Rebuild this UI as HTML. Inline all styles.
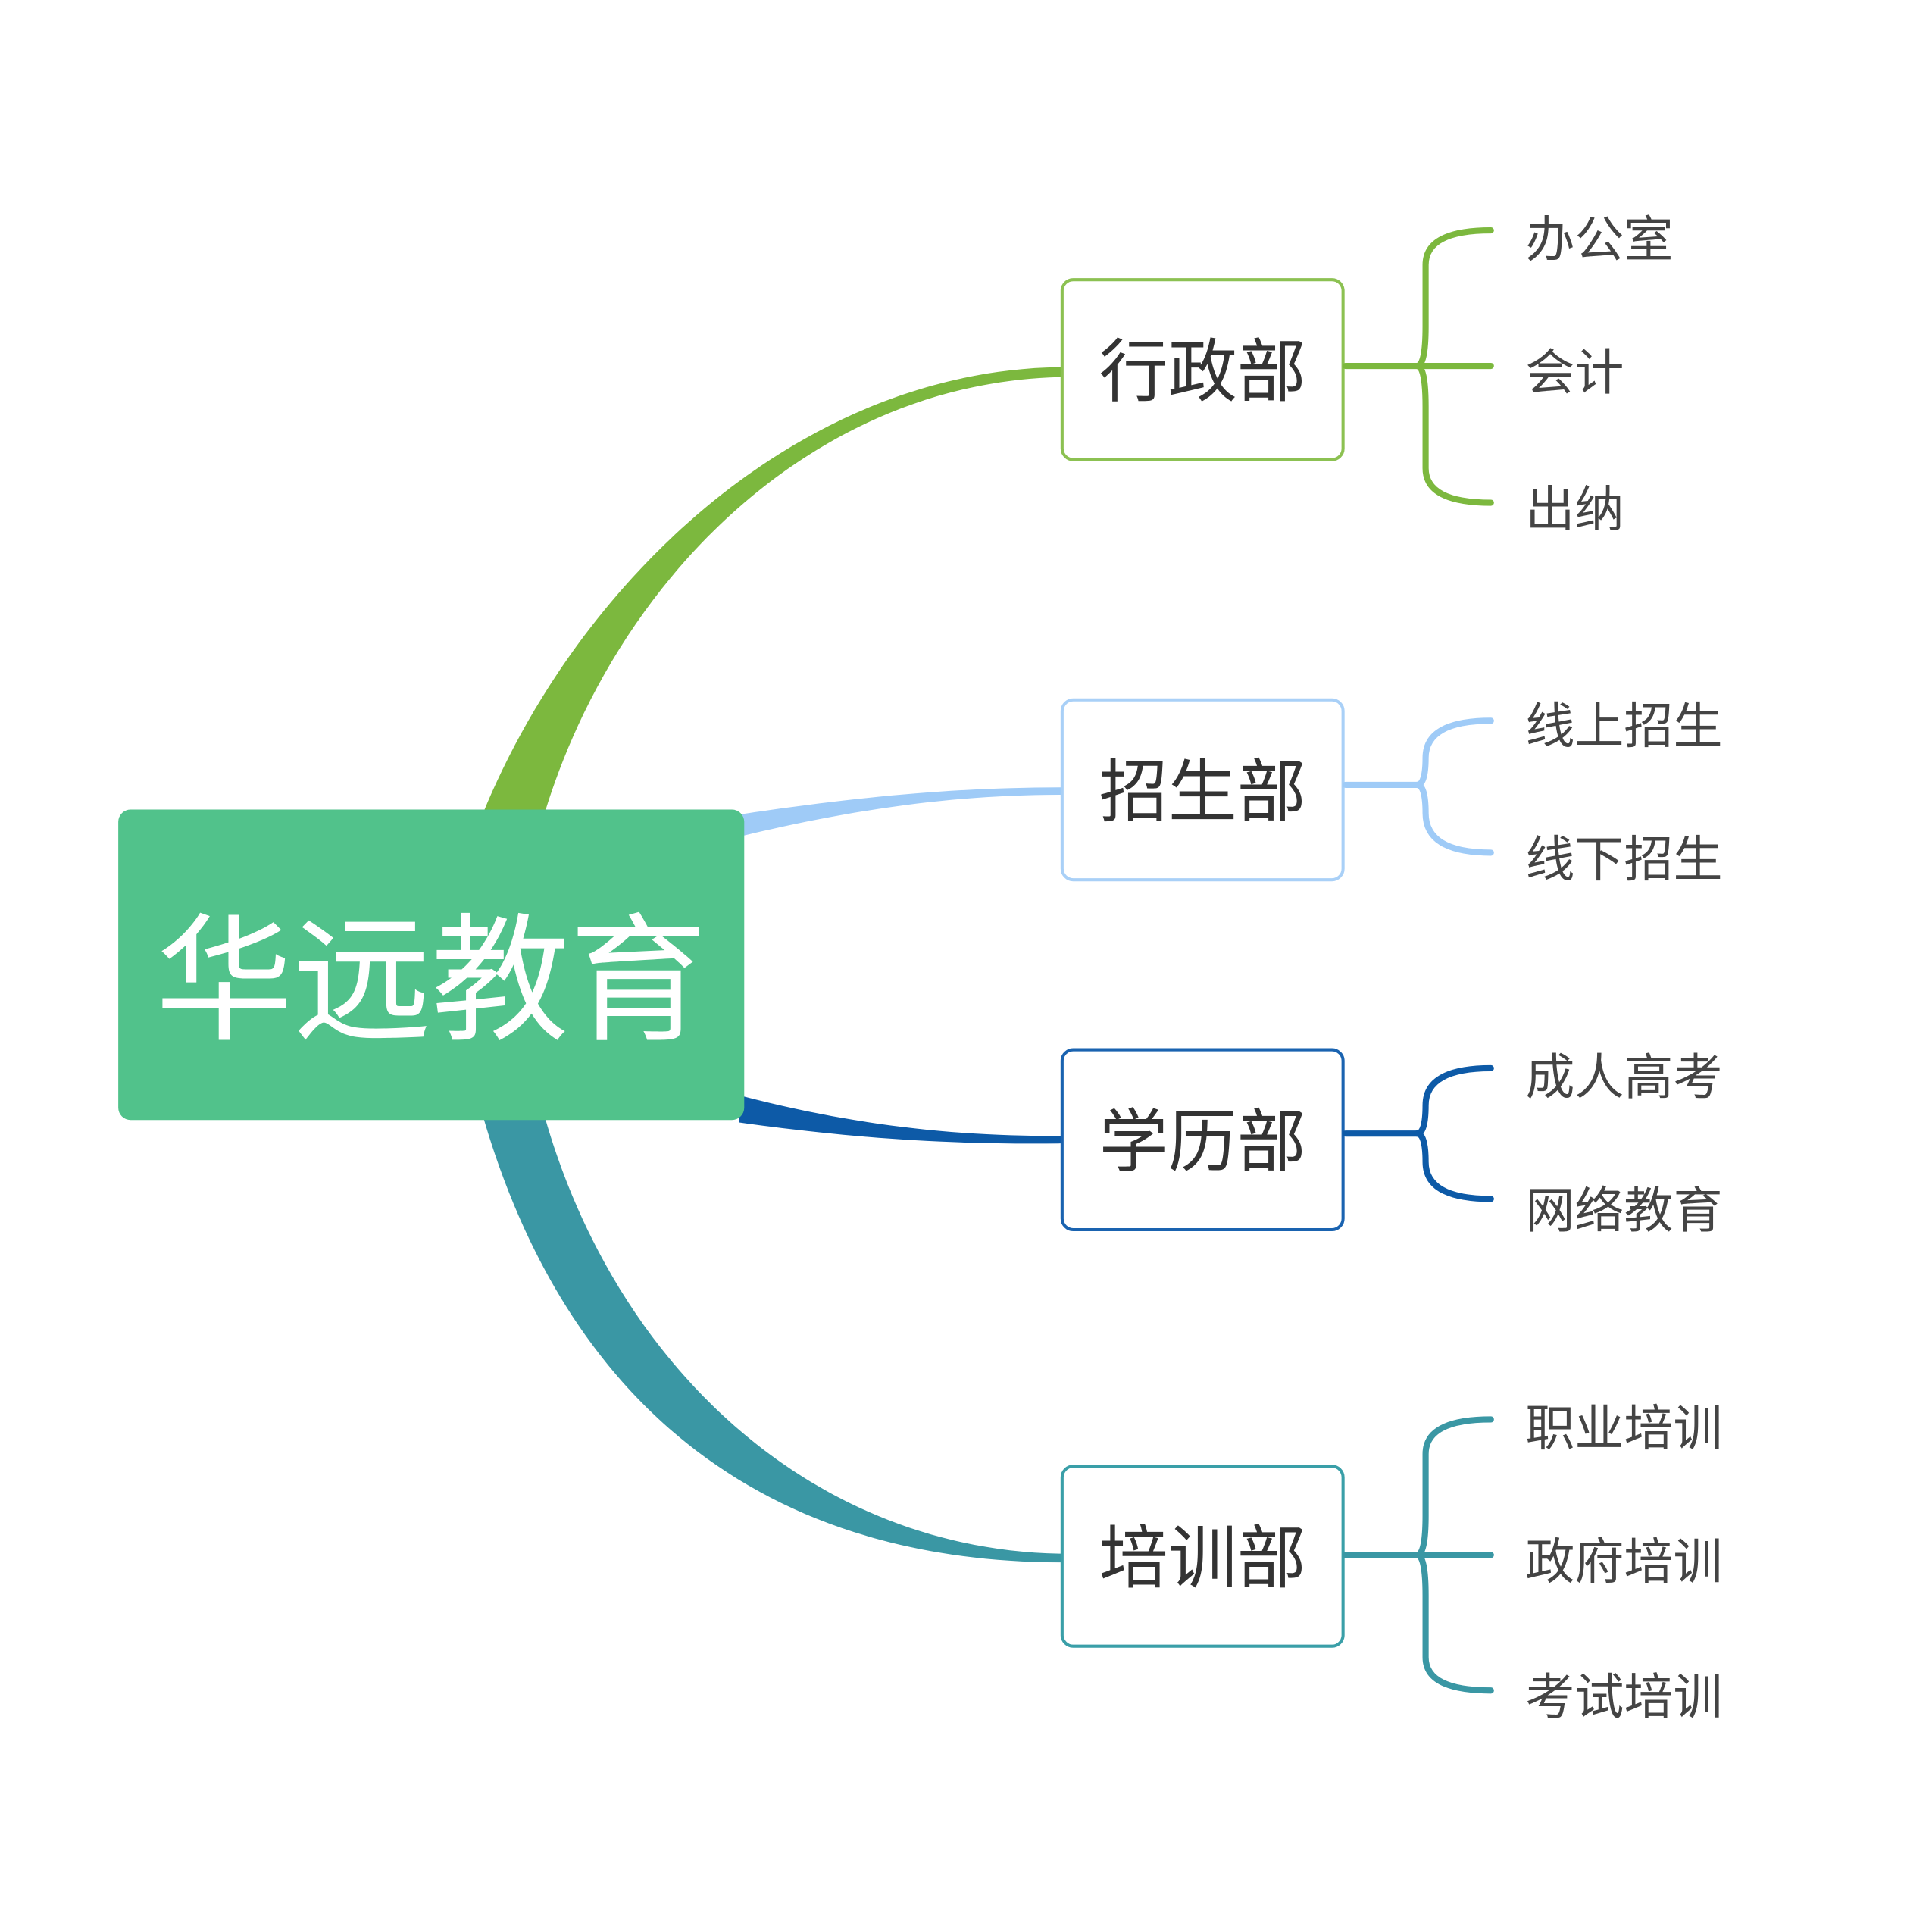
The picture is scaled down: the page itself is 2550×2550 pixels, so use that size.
<!DOCTYPE html>
<html><head><meta charset="utf-8"><style>
html,body{margin:0;padding:0;background:#fff;}
svg{display:block}
text{font-family:"Liberation Sans","Noto Sans CJK SC",sans-serif;}
</style></head><body>
<svg width="2550" height="2550" viewBox="0 0 1568 1568" xmlns="http://www.w3.org/2000/svg">
<rect width="1568" height="1568" fill="#fff"/>
<!-- main branches -->
<path d="M392,660 C470,470 650,300 862,298 L862,306 C660,310 500,470 442,660 Z" fill="#7cb83e"/>
<path d="M392,906 C460,1140 620,1268 862,1268 L862,1261 C660,1258 500,1110 442,906 Z" fill="#3a97a4"/>
<path d="M600,661 C700,646 780,639 862,639 L862,645 C780,645 700,655 600,679 Z" fill="#9fcbf7"/>
<path d="M600,889 C700,915 780,922 862,922 L862,928 C780,929 700,925 600,911 Z" fill="#0d5aa7"/>
<!-- root -->
<rect x="96" y="657" width="508" height="252" rx="10" fill="#51c28b"/>
<text x="350" y="835" font-size="112" fill="#fff" text-anchor="middle">华远教育</text>
<!-- dept boxes -->
<g font-size="56" fill="#333" text-anchor="middle">
<rect x="862" y="227" width="228" height="146" rx="9" fill="#fff" stroke="#8cc152" stroke-width="2.5"/>
<text x="976" y="321">行政部</text>
<rect x="862" y="568" width="228" height="146" rx="9" fill="#fff" stroke="#a9d0f7" stroke-width="2.5"/>
<text x="976" y="662">招生部</text>
<rect x="862" y="852" width="228" height="146" rx="9" fill="#fff" stroke="#1a63b0" stroke-width="2.5"/>
<text x="976" y="946">学历部</text>
<rect x="862" y="1190" width="228" height="146" rx="9" fill="#fff" stroke="#3a9fa8" stroke-width="2.5"/>
<text x="976" y="1284">培训部</text>
</g>
<!-- braces -->
<g fill="none" stroke-width="5" stroke-linecap="round">
<g stroke="#7cb83e">
<path d="M1092,297 L1210,297"/>
<path d="M1150,297 Q1157,297 1157,265 L1157,215 Q1157,187 1210,187"/>
<path d="M1150,297 Q1157,297 1157,330 L1157,380 Q1157,408 1210,408"/>
</g>
<g stroke="#9fcbf7">
<path d="M1092,637 L1150,637"/>
<path d="M1150,637 Q1157,637 1157,615 Q1157,585 1210,585"/>
<path d="M1150,637 Q1157,637 1157,660 Q1157,692 1210,692"/>
</g>
<g stroke="#0d5aa7">
<path d="M1092,920 L1150,920"/>
<path d="M1150,920 Q1157,920 1157,897 Q1157,867 1210,867"/>
<path d="M1150,920 Q1157,920 1157,943 Q1157,973 1210,973"/>
</g>
<g stroke="#3a97a4">
<path d="M1092,1262 L1210,1262"/>
<path d="M1150,1262 Q1157,1262 1157,1230 L1157,1180 Q1157,1152 1210,1152"/>
<path d="M1150,1262 Q1157,1262 1157,1295 L1157,1345 Q1157,1372 1210,1372"/>
</g>
</g>
<!-- leaves -->
<g font-size="40" fill="#444">
<text x="1238" y="208">办公室</text>
<text x="1238" y="316">会计</text>
<text x="1238" y="427">出纳</text>
<text x="1238" y="603">线上招生</text>
<text x="1238" y="711">线下招生</text>
<text x="1238" y="888">成人高考</text>
<text x="1238" y="996">网络教育</text>
<text x="1238" y="1173">职业培训</text>
<text x="1238" y="1281">政府培训</text>
<text x="1238" y="1391">考试培训</text>
</g>
</svg>
</body></html>
